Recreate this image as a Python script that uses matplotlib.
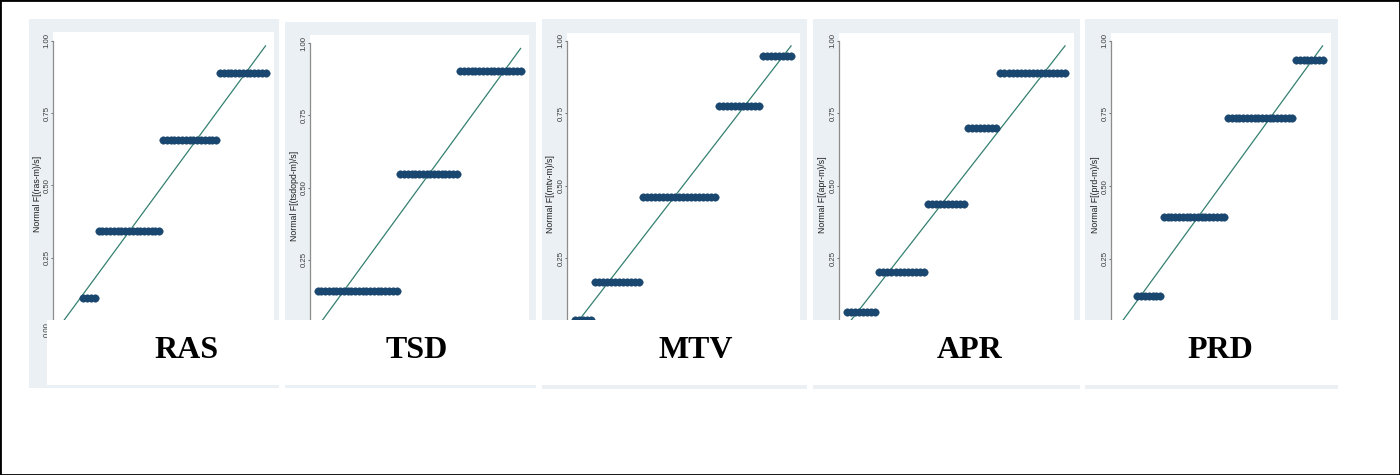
import matplotlib
matplotlib.use("Agg")
import matplotlib.pyplot as plt
from matplotlib.patches import Rectangle
import numpy as np

# ── Data: normal P-P plots (55 obs), tied values give flat runs ─────────────
N_OBS = 55
names = ["RAS", "TSD", "MTV", "APR", "PRD"]
ylabels = ["Normal F[(ras-m)/s]", "Normal F[(tsdopd-m)/s]", "Normal F[(mtv-m)/s]",
           "Normal F[(apr-m)/s]", "Normal F[(prd-m)/s]"]

# Normal F at each tied value, and how many observations share it
ras_levels = [0.01, 0.112, 0.342, 0.657, 0.889]
ras_counts = [6, 4, 17, 15, 13]
tsd_levels = [0.142, 0.547, 0.905]
tsd_counts = [22, 16, 17]
mtv_levels = [0.035, 0.169, 0.460, 0.775, 0.948]
mtv_counts = [5, 12, 19, 11, 8]
apr_levels = [0.064, 0.201, 0.437, 0.700, 0.888]
apr_counts = [8, 12, 10, 8, 17]
prd_levels = [0.01, 0.123, 0.395, 0.733, 0.934]
prd_counts = [5, 7, 17, 18, 8]

levels = [ras_levels, tsd_levels, mtv_levels, apr_levels, prd_levels]
counts = [ras_counts, tsd_counts, mtv_counts, apr_counts, prd_counts]

yticks = [0, 0.25, 0.5, 0.75, 1.0]
yticklabels = ["0.00", "0.25", "0.50", "0.75", "1.00"]

# ── Layout in pixels (image is 1400 x 475) ──────────────────────────────────
W, H = 1400, 475
# bg box, plot left/right/top, px of y=1 and y=0, label box, label centre
layout = [
    dict(bg=(29, 19, 279, 388), plot=(53, 274, 32), y1=40.7, y0=330.0,
         lab=(47, 320, 281, 385), txt=(186, 351)),
    dict(bg=(285, 22, 536, 388), plot=(310, 529, 35), y1=43.3, y0=332.0,
         lab=(283, 320, 537, 385), txt=(417, 351)),
    dict(bg=(542, 19, 807, 389), plot=(567, 800, 33), y1=40.7, y0=330.5,
         lab=(540, 320, 809, 385), txt=(696, 351)),
    dict(bg=(813, 19, 1080, 389), plot=(839, 1074, 33), y1=40.7, y0=330.5,
         lab=(811, 320, 1082, 385), txt=(970, 351)),
    dict(bg=(1085, 19, 1338, 389), plot=(1111, 1331, 33), y1=40.7, y0=331.5,
         lab=(1083, 320, 1340, 385), txt=(1220, 351)),
]

BG = '#eaf0f3'
NAVY = '#1a476f'
LINE = '#348070'


def fig_rect(x0, y0, x1, y1, **kw):
    return Rectangle((x0 / W, 1 - y1 / H), (x1 - x0) / W, (y1 - y0) / H,
                     transform=fig.transFigure, **kw)


fig = plt.figure(figsize=(14, 4.75), dpi=100)
fig.patch.set_facecolor('white')

for i, lay in enumerate(layout):
    # light Stata graph region
    fig.add_artist(fig_rect(*lay['bg'], facecolor=BG, edgecolor='none', zorder=-2))

    left, right, top = lay['plot']
    bottom = 345
    ax = fig.add_axes([left / W, 1 - bottom / H, (right - left) / W, (bottom - top) / H])
    scale = lay['y0'] - lay['y1']
    ax.set_ylim(-(bottom - lay['y0']) / scale, 1 + (lay['y1'] - top) / scale)
    ax.set_xlim(-0.018, 1.022)
    ax.set_facecolor('white')

    # empirical P[i] = i/(N+1), grouped by tied values
    ranks = np.arange(1, N_OBS + 1)
    emp = ranks / (N_OBS + 1)
    norm_f = np.repeat(levels[i], counts[i])
    ax.plot([emp[0], emp[-1]], [emp[0], emp[-1]], color=LINE, lw=0.9, zorder=2)
    ax.plot(emp, norm_f, 'o', ms=5.4, color=NAVY, mec=NAVY, mew=0.3, zorder=3)

    for side in ['top', 'right', 'bottom']:
        ax.spines[side].set_visible(False)
    ax.spines['left'].set_color('#8c8c8c')
    ax.spines['left'].set_linewidth(0.9)
    ax.spines['left'].set_bounds(ax.get_ylim()[0], 1.0)
    ax.set_xticks([])
    ax.set_yticks(yticks)
    ax.set_yticklabels(yticklabels, rotation=90, va='center',
                       fontsize=5.6, color='#3a3a3a', family='Liberation Sans')
    ax.tick_params(axis='y', length=1.5, width=0.7, color='#6c6c6c', pad=0.3)
    ax.set_ylabel(ylabels[i], fontsize=6.3, color='#202020', family='Liberation Sans')
    ax.yaxis.set_label_coords(-0.05, 0.47, transform=ax.get_yaxis_transform())

    # white caption box with the variable name
    fig.add_artist(fig_rect(*lay['lab'], facecolor='white', edgecolor='none', zorder=5))
    cx, cy = lay['txt']
    fig.text(cx / W, 1 - cy / H, names[i], ha='center', va='center',
             family='Liberation Serif', fontweight='bold', fontsize=23,
             color='black', zorder=6)

# outer frame
fig.add_artist(Rectangle((0, 0), 1, 1, transform=fig.transFigure, fill=False,
                         edgecolor='black', lw=2, zorder=10))

plt.savefig("out.png", dpi=100)
